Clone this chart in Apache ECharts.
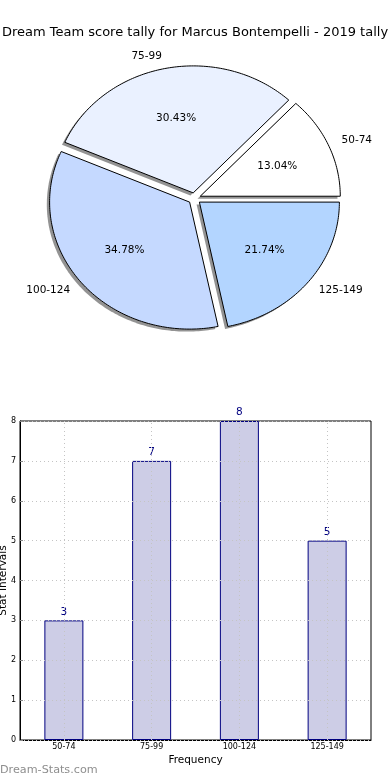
<!DOCTYPE html>
<html>
<head>
<meta charset="utf-8">
<script src="https://cdn.jsdelivr.net/npm/echarts@6/dist/echarts.min.js"></script>
<style>
html,body{margin:0;padding:0;background:#fff;}
#chart{width:390px;height:780px;}
</style>
</head>
<body>
<div id="chart"></div>
<script>
// ---- data ----
const titleText = 'Dream Team score tally for Marcus Bontempelli - 2019 tally';
const categories = ['50-74', '75-99', '100-124', '125-149'];
const counts = [3, 7, 8, 5];
const pieColors = ['#ffffff', '#eaf1ff', '#c5d9ff', '#b3d5ff'];
const yTicks = [0, 1, 2, 3, 4, 5, 6, 7, 8];
const xAxisName = 'Frequency';
const yAxisName = 'Stat Intervals';
const watermark = 'Dream-Stats.com';

// ---- rendering ----
const FONT = 'DejaVu Sans';
const total = counts.reduce((a, b) => a + b, 0);
const cumul = counts.map((v, i) => counts.slice(0, i).reduce((a, b) => a + b, 0));
const PIE = { cx: 194.5, cy: 198.5, rx: 140, ry: 127, explode: 0.045, shX: -2.8, shY: 2.5 };

function renderSlice(params, api) {
  const i = params.dataIndex;
  const v = api.value(0);
  const a1 = cumul[i] / total * 2 * Math.PI;
  const a2 = (cumul[i] + v) / total * 2 * Math.PI;
  const mid = (a1 + a2) / 2;
  const ox = PIE.cx + PIE.explode * PIE.rx * Math.cos(mid);
  const oy = PIE.cy - PIE.explode * PIE.ry * Math.sin(mid);
  const pts = [[ox, oy]];
  const steps = Math.max(8, Math.ceil((a2 - a1) / (Math.PI / 180)));
  for (let k = 0; k <= steps; k++) {
    const t = a1 + (a2 - a1) * k / steps;
    pts.push([ox + PIE.rx * Math.cos(t), oy - PIE.ry * Math.sin(t)]);
  }
  const shPts = pts.map(p => [p[0] + PIE.shX, p[1] + PIE.shY]);
  const pct = (v / total * 100).toFixed(2) + '%';
  const cm = Math.cos(mid), sm = Math.sin(mid);
  return {
    type: 'group',
    children: [
      { type: 'polygon', shape: { points: shPts }, style: { fill: 'rgba(40,40,40,0.5)' }, z2: 0 },
      { type: 'polygon', shape: { points: pts }, style: { fill: pieColors[i], stroke: '#000', lineWidth: 1 }, z2: 10 },
      { type: 'text', z2: 20, style: {
          text: pct, x: ox + 0.6 * PIE.rx * cm, y: oy - 0.6 * PIE.ry * sm,
          align: 'center', verticalAlign: 'middle', fill: '#000', fontSize: 10.5, fontFamily: FONT } },
      { type: 'text', z2: 20, style: {
          text: categories[i], x: ox + 1.1 * PIE.rx * cm, y: oy - 1.1 * PIE.ry * sm,
          align: cm >= 0 ? 'left' : 'right', verticalAlign: 'middle', fill: '#000', fontSize: 10.5, fontFamily: FONT } }
    ]
  };
}

const chart = echarts.init(document.getElementById('chart'), null, { renderer: 'canvas' });
chart.setOption({
  animation: false,
  backgroundColor: '#fff',
  textStyle: { fontFamily: FONT },
  title: {
    text: titleText, left: 'center', top: 21,
    textStyle: { fontSize: 13, fontWeight: 'normal', color: '#000', fontFamily: FONT }
  },
  graphic: [{
    type: 'text', left: 0, top: 765,
    style: { text: watermark, fill: '#8e8e8e', fontSize: 11.2, fontFamily: FONT, fontWeight: 'normal' }
  }],
  grid: { left: 20, right: 19, top: 421, bottom: 40, containLabel: false, outerBoundsMode: 'none',
          show: true, borderColor: '#000', borderWidth: 1, backgroundColor: 'transparent' },
  xAxis: {
    type: 'category', data: categories,
    name: xAxisName, nameLocation: 'middle', nameGap: 15, nameMoveOverlap: false,
    nameTextStyle: { fontSize: 10.5, color: '#000', fontFamily: FONT },
    axisLine: { lineStyle: { color: '#000' } },
    axisTick: { alignWithLabel: true, inside: true, length: 3, lineStyle: { color: '#888' } },
    axisLabel: { fontSize: 8, color: '#000', margin: 3, fontFamily: FONT },
    splitLine: { show: false }
  },
  yAxis: {
    type: 'value', min: yTicks[0], max: yTicks[yTicks.length - 1], interval: 1, z: 5,
    name: yAxisName, nameLocation: 'middle', nameGap: 11, nameRotate: 90, nameMoveOverlap: false,
    nameTextStyle: { fontSize: 10.5, color: '#000', fontFamily: FONT },
    axisLine: { show: true, lineStyle: { color: '#000' } },
    axisTick: { show: true, inside: true, length: 3, lineStyle: { color: '#888' } },
    axisLabel: { fontSize: 8, color: '#000', margin: 4, fontFamily: FONT },
    splitLine: { show: true, lineStyle: { color: '#c4c4c4', type: [1, 3], width: 1 } }
  },
  series: [
    {
      type: 'custom', coordinateSystem: 'none',
      data: counts.map(v => [v]),
      renderItem: renderSlice, silent: true
    },
    {
      type: 'bar', data: counts, barWidth: 39,
      itemStyle: { color: '#cdcde6', borderColor: '#000080', borderWidth: 1 },
      label: { show: true, position: 'top', distance: 3, color: '#000080', fontSize: 10.5, fontFamily: FONT },
      markLine: {
        silent: true, symbol: 'none', label: { show: false },
        lineStyle: { color: '#c4c4c4', type: [1, 3], width: 1 },
        data: categories.map(c => ({ xAxis: c }))
      }
    }
  ]
});
</script>
</body>
</html>
